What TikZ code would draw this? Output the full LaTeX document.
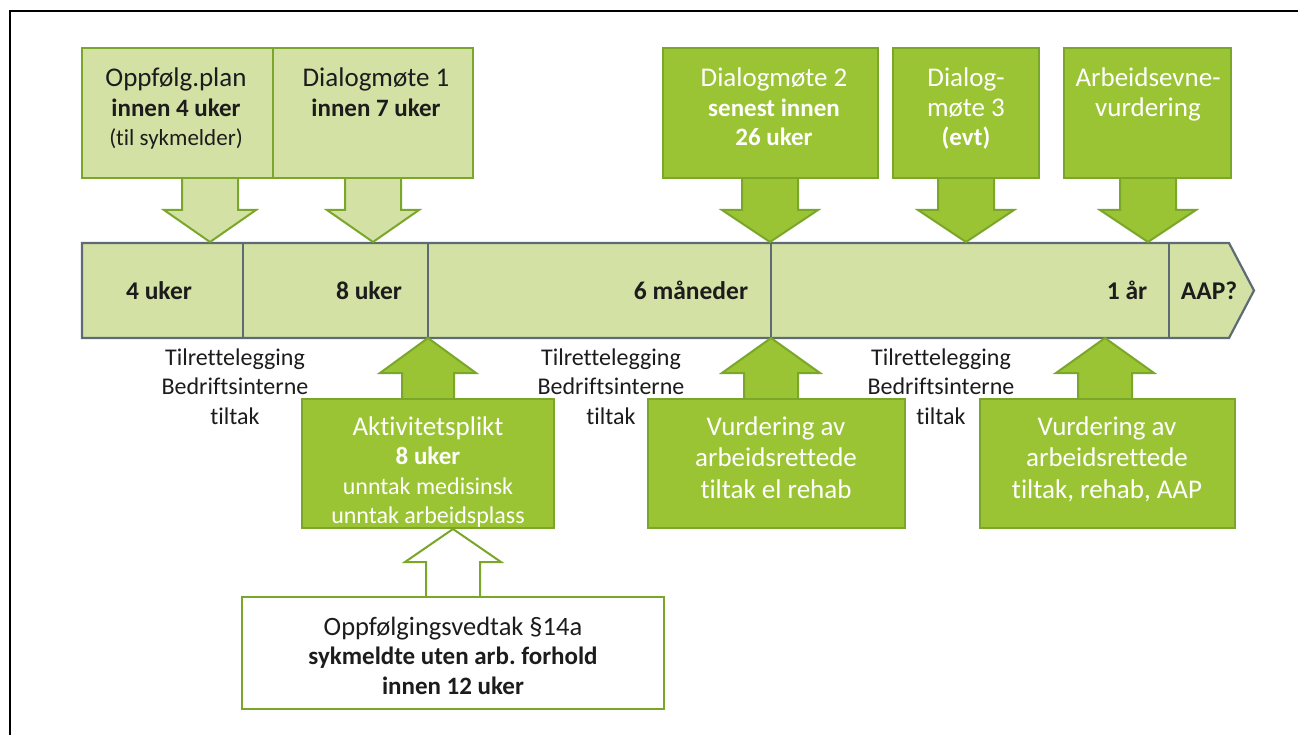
\documentclass[tikz,border=0pt]{standalone}
\usepackage{fontspec}
\setmainfont{Carlito}[Ligatures=NoCommon]
\definecolor{lgfill}{HTML}{D3E1A5}
\definecolor{gborder}{HTML}{7AA62A}
\definecolor{dgfill}{HTML}{9BC434}
\definecolor{barline}{HTML}{5F6B74}
\definecolor{txt}{HTML}{1C1C1C}
\newcommand\ml[1]{\begin{tabular}[t]{@{}c@{}}#1\end{tabular}}
\newcommand\ttl[1]{{\fontsize{27}{29.5}\selectfont #1}}
\newcommand\bld[1]{{\fontsize{25}{29.5}\selectfont\bfseries #1}}
% block arrow: style, centre x, start y, head-base y, tip y, shaft half, head half
\newcommand\blkarrow[7]{\draw[#1] ({#2-#6},#3) -- ({#2-#6},#4) -- ({#2-#7},#4) -- (#2,#5) -- ({#2+#7},#4) -- ({#2+#6},#4) -- ({#2+#6},#3);}
\frenchspacing
\begin{document}
\begin{tikzpicture}[x=1pt,y=-1pt,
  every node/.style={inner sep=0pt, outer sep=0pt},
  lbox/.style={draw=gborder, fill=lgfill, line width=2pt, anchor=north west},
  dbox/.style={draw=gborder, fill=dgfill, line width=2pt, anchor=north west},
  wbox/.style={draw=gborder, fill=white, line width=2pt, anchor=north west},
  larr/.style={draw=gborder, fill=lgfill, line width=2pt, line join=miter},
  darr/.style={draw=gborder, fill=dgfill, line width=2pt, line join=miter},
  warr/.style={draw=gborder, fill=white, line width=2pt, line join=miter},
  tb/.style={font=\fontsize{24}{29.5}\selectfont, text=txt, anchor=base},
  tw/.style={font=\fontsize{24}{29.5}\selectfont, text=white, anchor=base},
  bart/.style={font=\fontsize{25.5}{29.5}\selectfont\bfseries, text=txt, anchor=base},
  barst/.style={draw=barline, fill=lgfill, line width=2.2pt, line join=miter},
  divst/.style={draw=barline, line width=2.2pt}]
\useasboundingbox (0,0) rectangle (1298,735);
% frame
\draw[black, line width=1.4pt] (10,735) -- (10,11) -- (1298,11);

% timeline bar
\draw[barst] (82,243) -- (1229,243) -- (1254,290.5) -- (1229,338) -- (82,338) -- cycle;
\coordinate (d1t) at (243,243); \coordinate (d1b) at (243,338);
\coordinate (d2t) at (428,243); \coordinate (d2b) at (428,338);
\coordinate (d3t) at (771,243); \coordinate (d3b) at (771,338);
\coordinate (d4t) at (1169,243); \coordinate (d4b) at (1169,338);
\draw[divst] (d1t) -- (d1b);
\draw[divst] (d2t) -- (d2b);
\draw[divst] (d3t) -- (d3b);
\draw[divst] (d4t) -- (d4b);
\node[bart] (t4u) at (159,300) {4 uker};
\node[bart] (t8u) at (369,300) {8 uker};
\node[bart] (t6m) at (691,300) {6 måneder};
\node[bart] (t1a) at (1127,300) {1 år};
\node[bart] (taap) at (1209,300) {AAP?};

% down arrows from top boxes
\blkarrow{larr}{210}{177}{210}{242}{28}{46}
\blkarrow{larr}{373}{177}{210}{242}{28}{46}
\blkarrow{darr}{770}{177}{210}{242}{28}{48}
\blkarrow{darr}{966}{177}{210}{242}{28}{48}
\blkarrow{darr}{1148}{177}{210}{242}{28}{48}

% up arrows to bar
\blkarrow{darr}{428}{400}{373}{338}{26}{48}
\blkarrow{darr}{771}{400}{373}{338}{27}{49}
\blkarrow{darr}{1105}{400}{373}{338}{27}{49}
% hollow arrow
\blkarrow{warr}{453}{598}{562}{529}{27}{48}

% top boxes
\node[lbox, minimum width=191pt, minimum height=130pt] (oppf) at (82,48) {};
\node[lbox, minimum width=200pt, minimum height=130pt] (dm1) at (273,48) {};
\node[dbox, minimum width=215pt, minimum height=130pt] (dm2) at (663,48) {};
\node[dbox, minimum width=146pt, minimum height=130pt] (dm3) at (893,48) {};
\node[dbox, minimum width=167pt, minimum height=130pt] (aev) at (1064,48) {};
\node[tb] (oppfT) at (176,87) {\ml{\ttl{Oppfølg.plan}\\\bld{innen 4 uker}\\{\fontsize{23}{29.5}\selectfont(til sykmelder)}}};
\node[tb] (dm1T) at (376,87) {\ml{\ttl{Dialogmøte 1}\\\bld{innen 7 uker}}};
\node[tw] (dm2T) at (774,87) {\ml{\ttl{Dialogmøte 2}\\\bld{senest innen}\\\bld{26 uker}}};
\node[tw] (dm3T) at (966,87) {\ml{\ttl{Dialog-}\\\ttl{møte 3}\\\bld{(evt)}}};
\node[tw] (aevT) at (1148,87) {\ml{\ttl{Arbeidsevne-}\\\ttl{vurdering}}};

% side texts
\node[tb] (tl1) at (235,365) {\ml{Tilrettelegging\\Bedriftsinterne\\tiltak}};
\node[tb] (tl2) at (611,365) {\ml{Tilrettelegging\\Bedriftsinterne\\tiltak}};
\node[tb] (tl3) at (941,365) {\ml{Tilrettelegging\\Bedriftsinterne\\tiltak}};

% bottom boxes
\node[dbox, minimum width=252pt, minimum height=129pt] (akt) at (302,399) {};
\node[dbox, minimum width=257pt, minimum height=129pt] (vur1) at (648,399) {};
\node[dbox, minimum width=255pt, minimum height=129pt] (vur2) at (980,399) {};
\node[wbox, minimum width=422pt, minimum height=112pt] (vedt) at (242,597) {};
\node[tw] (aktT) at (428,435) {\ml{\ttl{Aktivitetsplikt}\\\bld{8 uker}\\unntak medisinsk\\unntak arbeidsplass}};
\node[tw, font=\fontsize{27}{31.5}\selectfont] (vur1T) at (776,435) {\ml{Vurdering av\\arbeidsrettede\\tiltak el rehab}};
\node[tw, font=\fontsize{27}{31.5}\selectfont] (vur2T) at (1107,435) {\ml{Vurdering av\\arbeidsrettede\\tiltak, rehab, AAP}};
\node[tb] (vedtT) at (453,635) {\ml{{\fontsize{26.5}{29.5}\selectfont Oppfølgingsvedtak §14a}\\\bld{sykmeldte uten arb. forhold}\\\bld{innen 12 uker}}};
\end{tikzpicture}
\end{document}
